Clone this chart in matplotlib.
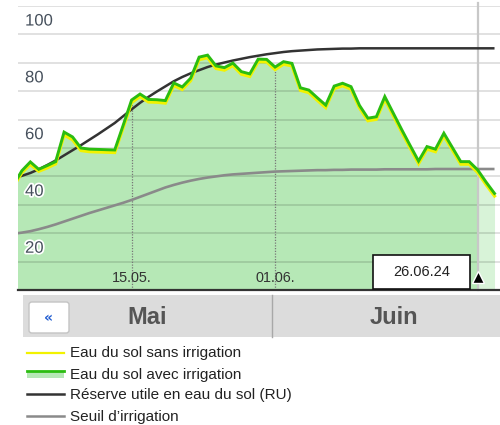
import numpy as np
import matplotlib
matplotlib.use("Agg")
import matplotlib.pyplot as plt
from matplotlib.patches import Rectangle, FancyBboxPatch
from matplotlib.lines import Line2D
import matplotlib.patheffects as pe
from matplotlib import transforms

# ---------------- data (day 0 = 1 May 2024) ----------------
days = np.arange(58)

with_irrigation = [
    37.0, 42.0, 45.1, 42.5, 43.8, 45.2, 55.6, 53.9, 50.0, 49.6,
    49.5, 49.4, 49.3, 58.0, 66.9, 69.0, 67.1, 67.0, 66.7, 72.9,
    71.5, 74.6, 82.0, 82.7, 78.9, 78.3, 79.9, 76.9, 76.1, 81.3,
    81.2, 78.5, 80.4, 79.8, 71.2, 70.4, 67.7, 65.1, 71.8, 72.8,
    71.6, 65.0, 60.5, 61.0, 68.1, 62.3, 56.5, 50.9, 45.4, 50.5,
    49.6, 55.2, 50.2, 45.2, 45.2, 42.3, 38.0, 34.0]

without_irrigation = [
    36.4, 41.3, 44.2, 41.8, 43.0, 44.4, 54.6, 52.9, 49.1, 48.7,
    48.6, 48.5, 48.4, 57.1, 66.0, 68.1, 66.2, 66.1, 65.8, 72.0,
    70.6, 73.7, 81.1, 81.8, 78.0, 77.4, 79.0, 76.0, 75.2, 80.4,
    80.3, 77.6, 79.5, 78.9, 70.3, 69.5, 66.8, 64.2, 70.9, 71.9,
    70.7, 64.1, 59.6, 60.1, 67.2, 61.4, 55.6, 50.0, 44.5, 49.6,
    48.7, 54.3, 49.3, 44.3, 44.3, 41.4, 37.1, 33.1]

reserve_utile = [
    39.3, 40.2, 41.2, 42.5, 44.0, 45.6, 47.4, 49.2, 51.0, 52.9,
    54.8, 56.8, 58.8, 61.2, 63.6, 65.9, 68.0, 69.9, 71.7, 73.5,
    75.0, 76.3, 77.4, 78.5, 79.4, 80.1, 80.8, 81.4, 82.0, 82.5,
    83.0, 83.4, 83.8, 84.1, 84.3, 84.5, 84.7, 84.8, 84.9, 85.0,
    85.0, 85.1, 85.1, 85.1, 85.1, 85.1, 85.1, 85.1, 85.1, 85.1,
    85.1, 85.1, 85.1, 85.1, 85.1, 85.1, 85.1, 85.1]

seuil = [
    19.8, 20.2, 20.7, 21.4, 22.2, 23.1, 24.1, 25.1, 26.1, 27.1,
    28.0, 28.9, 29.8, 30.7, 31.7, 32.8, 33.9, 35.0, 36.1, 37.0,
    37.8, 38.5, 39.1, 39.6, 40.0, 40.4, 40.7, 40.9, 41.1, 41.3,
    41.5, 41.7, 41.8, 41.9, 42.0, 42.1, 42.2, 42.2, 42.3, 42.3,
    42.4, 42.4, 42.4, 42.4, 42.5, 42.5, 42.5, 42.5, 42.5, 42.5,
    42.6, 42.6, 42.6, 42.6, 42.6, 42.6, 42.6, 42.6]

date_ticks = [14, 31]
date_labels = ["15.05.", "01.06."]
today = 55
today_label = "26.06.24"
y_labels = [20, 40, 60, 80, 100]
months = ["Mai", "Juin"]
legend_labels = ["Eau du sol sans irrigation", "Eau du sol avec irrigation",
                 "Réserve utile en eau du sol (RU)", "Seuil d\u2019irrigation"]

# ---------------- figure ----------------
W, H = 500, 425
fig = plt.figure(figsize=(W / 100, H / 100), dpi=100)
plt.rcParams['font.family'] = ['Liberation Sans', 'DejaVu Sans']

def fx(x):
    return x / W

def fy(y):
    return 1 - y / H

ax = fig.add_axes([fx(18), fy(290), (500 - 18) / W, (290 - 6) / H])
ax.set_xlim(0.54, 57.65)
ax.set_ylim(0, 100)
for s in ["left", "right", "top"]:
    ax.spines[s].set_visible(False)
ax.spines["bottom"].set_color("#333333")
ax.spines["bottom"].set_linewidth(1.6)
ax.set_xticks([])
ax.set_yticks([])

d = np.array(days)
g = np.array(with_irrigation)
# fill
ax.fill_between(d[:today + 1], 0, g[:today + 1], color="#b6e8b6", lw=0, zorder=1)
ax.fill_between(d[today:], 0, g[today:], color="#d8f3d8", lw=0, zorder=1)

# grid
for v in range(10, 101, 10):
    ax.axhline(v, color="black", alpha=0.13, lw=1.3, zorder=2)

# today line
ax.axvline(today, ymin=0, ymax=1.01, color="#c8c8c8", lw=1.6, zorder=2, clip_on=False)

# date marker lines (dotted, within fill)
for t in date_ticks:
    ax.vlines(t, 0, np.interp(t, d, g), colors="#777777", lw=0.9,
              linestyles=(0, (1, 1.2)), zorder=2)

ax.plot(d, seuil, color="#8a8a8a", lw=1.9, zorder=3, solid_capstyle="butt")
ax.plot(d, reserve_utile, color="#333333", lw=1.8, zorder=4, solid_capstyle="butt")
ax.plot(d, without_irrigation, color="#f2f200", lw=2.3, zorder=5, solid_joinstyle="miter")
ax.plot(d, with_irrigation, color="#2bbd10", lw=2.1, zorder=6, solid_joinstyle="miter")

# y labels
trans = transforms.blended_transform_factory(ax.transAxes, ax.transData)
for v in y_labels:
    ax.text(0.0146, v - 5.3, str(v), transform=trans, ha="left", va="center",
            fontsize=12, color="#46505c", zorder=7,
            path_effects=[pe.withStroke(linewidth=2.5, foreground="white")])

# date labels
for t, lab in zip(date_ticks, date_labels):
    ax.text(t, 4.2, lab, ha="center", va="center", fontsize=10.4,
            color="#333333", zorder=7)

# today box
fig.patches.append(Rectangle((fx(373), fy(289)), 97 / W, 34 / H,
                             transform=fig.transFigure, facecolor="white",
                             edgecolor="#111111", lw=1.2, zorder=8))
fig.text(fx(422), fy(271.5), today_label, ha="center", va="center",
         fontsize=10.5, color="#222222", zorder=9)
ax.plot([today], [4.6], marker="^", markersize=8, color="black",
        markeredgecolor="white", markeredgewidth=1.0, zorder=9, clip_on=False)

# bottom month bar
fig.patches.append(Rectangle((fx(22.7), fy(337)), (500 - 22.7) / W, 42 / H,
                             transform=fig.transFigure, facecolor="#dcdcdc",
                             edgecolor="none", zorder=1))
fig.lines.append(Line2D([fx(271.7), fx(271.7)], [fy(295), fy(337)],
                        transform=fig.transFigure, color="#a8a8a8", lw=1.0))
fig.patches.append(FancyBboxPatch((fx(29), fy(333)), 40 / W, 31 / H,
                                  boxstyle="round,pad=0,rounding_size=0.006",
                                  transform=fig.transFigure, facecolor="white",
                                  edgecolor="#c4c4c4", lw=1.0, zorder=2))
fig.text(fx(48.5), fy(318), "\u00ab", ha="center", va="center", fontsize=10,
         fontweight="bold", color="#1f5bd0", family="DejaVu Sans")
fig.text(fx(146.7), fy(318), months[0], ha="center", va="center", fontsize=17,
         fontweight="bold", color="#555555")
fig.text(fx(394), fy(318), months[1], ha="center", va="center", fontsize=17,
         fontweight="bold", color="#555555")

# legend
leg_y = [353.5, 374.5, 395.5, 416.5]
line_y = [353.3, 370.7, 394.3, 416.0]
fig.lines.append(Line2D([fx(27), fx(64)], [fy(line_y[0])] * 2,
                        transform=fig.transFigure, color="#f2f200", lw=1.6))
fig.patches.append(Rectangle((fx(27), fy(378)), 37 / W, 7 / H,
                             transform=fig.transFigure, facecolor="#b6e8b6",
                             edgecolor="none"))
fig.lines.append(Line2D([fx(27), fx(64)], [fy(line_y[1])] * 2,
                        transform=fig.transFigure, color="#2bbd10", lw=2.0))
fig.lines.append(Line2D([fx(27), fx(64)], [fy(line_y[2])] * 2,
                        transform=fig.transFigure, color="#333333", lw=1.8))
fig.lines.append(Line2D([fx(27), fx(64)], [fy(line_y[3])] * 2,
                        transform=fig.transFigure, color="#8a8a8a", lw=1.8))
for yy, lab in zip(leg_y, legend_labels):
    fig.text(fx(69.5), fy(yy), lab, ha="left", va="center", fontsize=11,
             color="#222222")

fig.savefig("out.png", dpi=100)
